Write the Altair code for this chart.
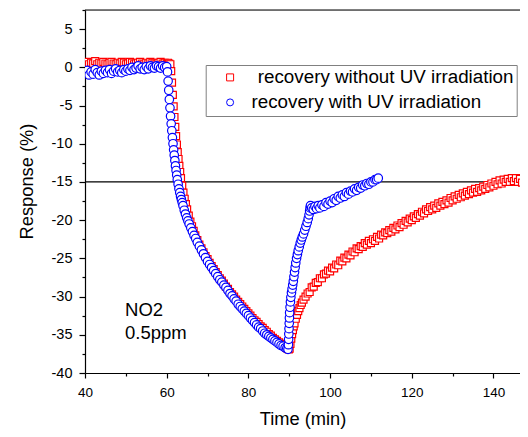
import altair as alt
import pandas as pd

FONT = "Liberation Sans"

LABEL_RED = "\u200b\u2004recovery without UV irradiation"
LABEL_BLUE = "recovery with UV irradiation"
SERIES = [LABEL_RED, LABEL_BLUE]
SERIES_COLORS = ["#ff0000", "#0000ff"]
SERIES_SHAPES = ["square", "circle"]

RED_TIME = [
    40.0, 40.5, 41.0, 41.5, 42.0, 42.5, 43.0, 43.5, 44.0, 44.5,
    45.0, 45.5, 46.0, 46.5, 47.0, 47.5, 48.0, 48.5, 49.0, 49.5,
    50.0, 50.5, 51.0, 51.5, 52.0, 52.5, 53.0, 53.5, 54.0, 54.5,
    55.0, 55.5, 56.0, 56.5, 57.0, 57.5, 58.0, 58.5, 59.0, 59.5,
    60.0, 60.3, 60.6, 60.9, 61.1, 61.3, 61.5, 61.7, 61.9, 62.1,
    62.3, 62.5, 62.7, 62.9, 63.1, 63.3, 63.5, 63.8, 64.1, 64.4,
    64.7, 65.0, 65.4, 65.8, 66.2, 66.6, 67.0, 67.5, 68.0, 68.5,
    69.0, 69.5, 70.0, 70.5, 71.0, 71.5, 72.0, 72.5, 73.0, 73.5,
    74.0, 74.5, 75.0, 75.5, 76.0, 76.5, 77.0, 77.5, 78.0, 78.5,
    79.0, 79.5, 80.0, 80.5, 81.0, 81.5, 82.0, 82.5, 83.0, 83.5,
    84.0, 84.5, 85.0, 85.5, 86.0, 86.5, 87.0, 87.5, 88.0, 88.5,
    89.0, 89.3, 89.6, 89.9, 90.1, 90.3, 90.5, 90.7, 90.9, 91.1,
    91.3, 91.6, 91.9, 92.2, 92.5, 92.8, 93.1, 93.5, 94.0, 94.5,
    95.0, 95.5, 96.0, 96.5, 97.0, 97.5, 98.0, 98.5, 99.0, 99.5,
    100.0, 100.5, 101.0, 101.5, 102.0, 102.5, 103.0, 103.5, 104.0, 104.5,
    105.0, 105.5, 106.0, 106.5, 107.0, 107.5, 108.0, 108.5, 109.0, 109.5,
    110.0, 110.5, 111.0, 111.5, 112.0, 112.5, 113.0, 113.5, 114.0, 114.5,
    115.0, 115.5, 116.0, 116.5, 117.0, 117.5, 118.0, 118.5, 119.0, 119.5,
    120.0, 120.5, 121.0, 121.5, 122.0, 122.5, 123.0, 123.5, 124.0, 124.5,
    125.0, 125.5, 126.0, 126.5, 127.0, 127.5, 128.0, 128.5, 129.0, 129.5,
    130.0, 130.5, 131.0, 131.5, 132.0, 132.5, 133.0, 133.5, 134.0, 134.5,
    135.0, 135.5, 136.0, 136.5, 137.0, 137.5, 138.0, 138.5, 139.0, 139.5,
    140.0, 140.5, 141.0, 141.5, 142.0, 142.5, 143.0, 143.5, 144.0, 144.5,
    145.0, 145.5, 146.0, 146.5, 147.0, 147.5, 148.0, 148.5, 149.0, 149.5,
]
RED_RESP = [
    0.5, 0.7, 0.4, 0.6, 0.5, 0.8, 0.4, 0.6, 0.5, 0.7,
    0.5, 0.4, 0.6, 0.7, 0.5, 0.4, 0.6, 0.5, 0.7, 0.6,
    0.4, 0.5, 0.7, 0.6, 0.4, 0.5, 0.6, 0.7, 0.5, 0.4,
    0.6, 0.5, 0.7, 0.6, 0.5, 0.4, 0.6, 0.7, 0.5, 0.6,
    0.5, 0.6, 0.5, 0.4, -0.5, -2.0, -3.6, -5.1, -6.5, -7.8,
    -9.0, -10.1, -11.1, -12.0, -12.9, -13.7, -14.5, -15.5, -16.4, -17.2,
    -17.9, -18.6, -19.4, -20.2, -20.8, -21.4, -22.0, -22.6, -23.2, -23.7,
    -24.2, -24.7, -25.1, -25.6, -26.0, -26.4, -26.8, -27.2, -27.6, -27.9,
    -28.3, -28.7, -29.0, -29.4, -29.7, -30.0, -30.4, -30.7, -31.0, -31.3,
    -31.6, -31.9, -32.2, -32.5, -32.8, -33.1, -33.3, -33.6, -33.9, -34.1,
    -34.4, -34.6, -34.9, -35.1, -35.4, -35.6, -35.8, -36.0, -36.2, -36.4,
    -36.6, -36.7, -36.8, -36.9, -36.8, -36.2, -35.5, -34.9, -34.4, -33.9,
    -33.5, -32.9, -32.4, -31.9, -31.5, -31.1, -30.8, -30.4, -30.0, -29.6,
    -29.4, -28.8, -28.7, -28.2, -28.1, -27.6, -27.6, -27.1, -27.0, -26.6,
    -26.7, -26.2, -26.3, -25.8, -25.9, -25.3, -25.4, -24.9, -25.0, -24.5,
    -24.6, -24.1, -24.2, -23.7, -23.8, -23.4, -23.5, -23.0, -23.2, -22.7,
    -23.0, -22.5, -22.7, -22.2, -22.4, -21.9, -22.0, -21.6, -21.7, -21.3,
    -21.5, -21.0, -21.2, -20.7, -20.9, -20.4, -20.6, -20.1, -20.3, -19.8,
    -20.0, -19.5, -19.7, -19.2, -19.4, -18.9, -19.1, -18.6, -18.8, -18.3,
    -18.6, -18.1, -18.4, -17.8, -18.1, -17.6, -17.9, -17.4, -17.7, -17.1,
    -17.4, -16.9, -17.2, -16.7, -17.0, -16.5, -16.8, -16.3, -16.6, -16.1,
    -16.4, -15.9, -16.3, -15.8, -16.1, -15.6, -15.9, -15.4, -15.7, -15.2,
    -15.5, -15.0, -15.3, -14.8, -15.2, -14.7, -15.0, -14.6, -15.0, -14.5,
    -14.9, -14.5, -15.0, -14.6, -15.1, -14.7, -15.2, -14.8, -15.2, -14.9,
]

BLUE_TIME = [
    40.0, 40.5, 41.0, 41.5, 42.0, 42.5, 43.0, 43.5, 44.0, 44.5,
    45.0, 45.5, 46.0, 46.5, 47.0, 47.5, 48.0, 48.5, 49.0, 49.5,
    50.0, 50.5, 51.0, 51.5, 52.0, 52.5, 53.0, 53.5, 54.0, 54.5,
    55.0, 55.5, 56.0, 56.5, 57.0, 57.5, 58.0, 58.5, 59.0, 59.5,
    60.0, 60.2, 60.35, 60.5, 60.65, 60.8, 60.95, 61.1, 61.25, 61.4,
    61.55, 61.7, 61.85, 62.0, 62.15, 62.3, 62.45, 62.6, 62.8, 63.0,
    63.2, 63.4, 63.6, 63.8, 64.0, 64.3, 64.6, 64.9, 65.2, 65.5,
    65.9, 66.3, 66.7, 67.1, 67.5, 68.0, 68.5, 69.0, 69.5, 70.0,
    70.5, 71.0, 71.5, 72.0, 72.5, 73.0, 73.5, 74.0, 74.5, 75.0,
    75.5, 76.0, 76.5, 77.0, 77.5, 78.0, 78.5, 79.0, 79.5, 80.0,
    80.5, 81.0, 81.5, 82.0, 82.5, 83.0, 83.5, 84.0, 84.5, 85.0,
    85.5, 86.0, 86.5, 87.0, 87.5, 88.0, 88.5, 89.0, 89.4, 89.7,
    89.8, 89.85, 89.9, 89.95, 90.0, 90.05, 90.1, 90.2, 90.3, 90.4,
    90.55, 90.7, 90.85, 91.0, 91.15, 91.3, 91.45, 91.6, 91.8, 92.0,
    92.2, 92.45, 92.7, 92.95, 93.2, 93.5, 93.8, 94.1, 94.4, 94.65,
    94.85, 95.0, 95.1, 95.2, 95.5, 95.9, 96.3, 96.7, 97.1, 97.5,
    98.0, 98.5, 99.0, 99.5, 100.0, 100.5, 101.0, 101.5, 102.0, 102.5,
    103.0, 103.5, 104.0, 104.5, 105.0, 105.5, 106.0, 106.5, 107.0, 107.5,
    108.0, 108.5, 109.0, 109.5, 110.0, 110.5, 111.0, 111.4, 111.8,
]
BLUE_RESP = [
    -0.8, -0.4, -1.0, -0.6, -0.9, -0.3, -0.7, -1.0, -0.5, -0.8,
    -0.4, -0.7, -0.3, -0.8, -0.5, -0.2, -0.6, -0.4, -0.7, -0.3,
    -0.5, -0.2, -0.4, 0.0, -0.3, -0.1, 0.2, -0.2, 0.0, -0.3,
    0.1, -0.2, 0.2, 0.0, -0.1, 0.2, 0.1, -0.1, 0.2, 0.0,
    0.1, -0.6, -1.8, -3.0, -4.2, -5.3, -6.4, -7.4, -8.3, -9.2,
    -10.0, -10.8, -11.5, -12.2, -12.9, -13.5, -14.1, -14.7, -15.3, -15.9,
    -16.4, -16.9, -17.3, -17.7, -18.1, -18.7, -19.2, -19.7, -20.1, -20.5,
    -21.0, -21.5, -22.0, -22.4, -22.9, -23.4, -23.9, -24.4, -24.9, -25.4,
    -25.8, -26.2, -26.6, -27.0, -27.4, -27.8, -28.1, -28.5, -28.8, -29.2,
    -29.6, -29.9, -30.3, -30.6, -31.0, -31.3, -31.6, -31.9, -32.2, -32.5,
    -32.8, -33.1, -33.4, -33.7, -34.0, -34.2, -34.5, -34.8, -35.0, -35.2,
    -35.4, -35.6, -35.8, -36.0, -36.2, -36.4, -36.5, -36.7, -36.8, -36.9,
    -36.3, -35.6, -34.9, -34.2, -33.5, -32.8, -32.1, -31.4, -30.7, -30.1,
    -29.5, -29.0, -28.5, -28.0, -27.4, -26.8, -26.2, -25.6, -25.0, -24.5,
    -24.0, -23.5, -23.0, -22.6, -22.2, -21.8, -21.3, -20.8, -20.3, -19.8,
    -19.3, -18.8, -18.4, -18.1, -18.4, -18.6, -18.2, -18.5, -18.1, -18.4,
    -18.0, -18.2, -17.7, -17.9, -17.5, -17.7, -17.2, -17.4, -16.9, -17.1,
    -16.7, -16.9, -16.4, -16.6, -16.2, -16.3, -15.9, -16.1, -15.7, -15.8,
    -15.4, -15.5, -15.2, -15.3, -15.0, -15.0, -14.7, -14.7, -14.5,
]

X_TICKS = [40, 50, 60, 70, 80, 90, 100, 110, 120, 130, 140]
Y_TICKS = [-40, -37.5, -35, -32.5, -30, -27.5, -25, -22.5, -20, -17.5, -15,
           -12.5, -10, -7.5, -5, -2.5, 0, 2.5, 5, 7.5]
X_DOMAIN = [40, 146.5]
Y_DOMAIN = [-40, 7.5]
REF_LEVEL = [-15]
NOTE_TEXT = ["NO2", "0.5ppm"]
NOTE_TIME = [49.8, 49.8]
NOTE_RESP = [-32.6, -35.5]

W, H = 435, 363

df_red = pd.DataFrame({"t": RED_TIME, "v": RED_RESP, "series": LABEL_RED})
df_blue = pd.DataFrame({"t": BLUE_TIME, "v": BLUE_RESP, "series": LABEL_BLUE})

x_scale = alt.Scale(domain=X_DOMAIN, nice=False, zero=False)
y_scale = alt.Scale(domain=Y_DOMAIN, nice=False, zero=False)

axis_common = dict(
    grid=False, domainColor="black", domainWidth=1.2, tickColor="black",
    tickWidth=1.2, labelColor="black", titleColor="black", labelFont=FONT,
    titleFont=FONT, titleFontSize=18.3,
    titleFontWeight="normal", labelOverlap=False, labelFlush=False,
)

x_axis = alt.Axis(
    values=X_TICKS, title="Time (min)", labelFontSize=13.5,
    labelExpr="datum.value % 20 === 0 ? '' + datum.value : ''",
    tickSize={"condition": {"test": "datum.value % 20 === 0", "value": 5}, "value": 3},
    labelPadding=7, titlePadding=12, **axis_common,
)
y_axis = alt.Axis(
    values=Y_TICKS, title="Response (%)", labelFontSize=14.5,
    labelExpr="datum.value % 5 === 0 ? '' + datum.value : ''",
    tickSize={"condition": {"test": "datum.value % 5 === 0", "value": 6}, "value": 3},
    labelPadding=7, titleX=-53, titleY=171, titleBaseline="alphabetic",
    titleAlign="center", titleAngle=270, **axis_common,
)

legend = alt.Legend(
    orient="none", legendX=120.7, legendY=55, title=None, padding=3,
    strokeColor="#808080", fillColor="white", symbolSize=49,
    symbolStrokeWidth=1, symbolOffset=12, labelOffset=12,
    labelFontSize=18.8, labelFont=FONT, labelColor="black",
    labelLimit=400, rowPadding=5, symbolFillColor="white",
)

color_enc = alt.Color("series:N", scale=alt.Scale(domain=SERIES, range=SERIES_COLORS), legend=legend)
shape_enc = alt.Shape("series:N", scale=alt.Scale(domain=SERIES, range=SERIES_SHAPES), legend=legend)
x_enc = alt.X("t:Q", scale=x_scale, axis=x_axis)
y_enc = alt.Y("v:Q", scale=y_scale, axis=y_axis)

top_line = alt.Chart(pd.DataFrame({"k": [0]})).mark_rule(
    color="black", strokeWidth=1.2
).encode(x=alt.value(0), x2=alt.value(W), y=alt.value(0))

hline = alt.Chart(pd.DataFrame({"v": REF_LEVEL})).mark_rule(
    color="black", strokeWidth=1.2
).encode(y=alt.Y("v:Q", scale=y_scale, axis=y_axis))

red_pts = alt.Chart(df_red).mark_point(
    fill="white", filled=False, strokeWidth=1.2, clip=True, opacity=1, size=49
).encode(x=x_enc, y=y_enc, color=color_enc, shape=shape_enc)

blue_pts = alt.Chart(df_blue).mark_point(
    fill="white", filled=False, strokeWidth=1.2, clip=True, opacity=1, size=72
).encode(x=x_enc, y=y_enc, color=color_enc, shape=shape_enc)

note = alt.Chart(pd.DataFrame({"t": NOTE_TIME, "v": NOTE_RESP, "s": NOTE_TEXT})).mark_text(
    align="left", baseline="alphabetic", fontSize=18.5, font=FONT, color="black"
).encode(x=x_enc, y=y_enc, text="s:N")

chart = alt.layer(hline, red_pts, blue_pts, note, top_line).properties(
    width=W, height=H,
    padding={"left": 77, "top": 2, "right": 0, "bottom": 56},
    autosize=alt.AutoSizeParams(type="none"),
).configure_view(stroke=None).configure(background="white")

chart.save("out.html", embed_options={"renderer": "svg", "actions": False})
